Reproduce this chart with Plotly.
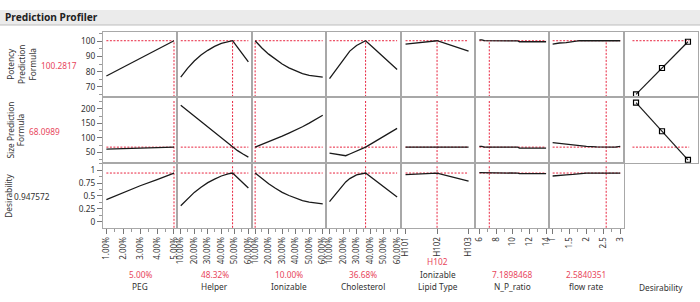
import plotly.graph_objects as go
from plotly.subplots import make_subplots

# ---------------- data ----------------
factor_names = ["PEG", "Helper", "Ionizable", "Cholesterol", "Ionizable\nLipid Type", "N_P_ratio", "flow rate"]
factor_current = [5.0, 48.32, 10.0, 36.68, 1, 7.1898468, 2.5840351]
factor_current_text = ["5.00%", "48.32%", "10.00%", "36.68%", "H102", "7.1898468", "2.5840351"]
factor_min = [1, 10, 10, 10, 0, 6, 1]
factor_max = [5, 60, 60, 60, 2, 14, 3]

response_names = ["Potency<br>Prediction<br>Formula", "Size Prediction<br>Formula", "Desirability"]
response_current = [100.2817, 68.0989, 0.947572]
response_current_text = ["100.2817", "68.0989", "0.947572"]

peg_x = [1, 2, 3, 4, 5]
peg_potency = [77.2, 83.0, 88.8, 94.5, 100.28]
peg_size = [61.0, 62.8, 64.6, 66.4, 68.1]
peg_desir = [0.43, 0.57, 0.70, 0.82, 0.9476]

helper_x = [10, 15, 20, 25, 30, 35, 40, 45, 48.32, 52, 56, 60]
helper_potency = [76.5, 82.2, 87.0, 90.9, 94.0, 96.6, 98.5, 99.8, 100.28, 95.9, 91.1, 86.4]
helper_size = [213, 194, 175, 156, 137.5, 119, 100.5, 81, 68.1, 56, 44.5, 33.6]
helper_desir = [0.31, 0.45, 0.57, 0.67, 0.76, 0.83, 0.89, 0.93, 0.9476, 0.856, 0.756, 0.655]

ioniz_x = [10, 15, 20, 25, 30, 35, 40, 45, 50, 55, 60]
ioniz_potency = [100.28, 95.5, 91.5, 88.0, 85.0, 82.5, 80.5, 78.8, 77.6, 76.9, 76.5]
ioniz_size = [68.1, 77, 86, 96, 106, 116.5, 127, 138.5, 151, 164, 178]
ioniz_desir = [0.9476, 0.84, 0.74, 0.65, 0.57, 0.51, 0.455, 0.41, 0.38, 0.36, 0.347]

chol_x = [10, 15, 20, 22, 25, 30, 36.68, 42, 48, 54, 60]
chol_potency = [75.4, 81.5, 88.0, 90.5, 93.5, 97.2, 100.28, 96.0, 91.1, 86.3, 81.4]
chol_size = [47.3, 44, 38.5, 38.5, 44.5, 54.6, 68.1, 83, 99.8, 116.6, 133]
chol_desir = [0.39, 0.56, 0.72, 0.775, 0.84, 0.91, 0.9476, 0.84, 0.72, 0.60, 0.48]

lipid_x = [0, 1, 2]
lipid_labels = ["H101", "H102", "H103"]
lipid_potency = [98.0, 100.28, 93.4]
lipid_size = [68.1, 68.1, 68.1]
lipid_desir = [0.916, 0.9476, 0.79]

np_x = [6, 6.3, 6.6, 7.1898468, 10.6, 10.8, 14]
np_potency = [100.9, 100.9, 100.3, 100.28, 100.2, 99.6, 99.6]
np_size = [71, 71, 68.3, 68.1, 68.0, 65.0, 65.0]
np_desir = [0.955, 0.955, 0.949, 0.9476, 0.946, 0.937, 0.937]

flow_x = [1, 1.2, 1.4, 1.6, 1.8, 2.0, 2.3, 2.5840351, 2.85, 3]
flow_potency = [98.0, 98.8, 99.0, 99.5, 100.28, 100.28, 100.28, 100.28, 100.28, 100.28]
flow_size = [83.6, 81, 78, 75.5, 73, 71, 69, 68.1, 68.0, 71]
flow_desir = [0.89, 0.905, 0.912, 0.92, 0.94, 0.9476, 0.9476, 0.9476, 0.9476, 0.9476]

desir_fn_x = [0.12, 0.56, 1.0]
potency_fn_y = [65.1, 82.4, 99.6]
size_fn_y = [222, 123, 24.4]
desir_hline_x = [0.06, 1.02]

# tick labels
peg_ticks = [1, 2, 3, 4, 5]
peg_ticktext = ["1.00%", "2.00%", "3.00%", "4.00%", "5.00%"]
pct_ticks = [10, 20, 30, 40, 50, 60]
pct_ticktext = ["10.00%", "20.00%", "30.00%", "40.00%", "50.00%", "60.00%"]
np_ticks = [6, 8, 10, 12, 14]
flow_ticks = [1, 1.5, 2, 2.5, 3]
desir_ticks = [0, 0.25, 0.5, 0.75, 1]

factor_x = [peg_x, helper_x, ioniz_x, chol_x, lipid_x, np_x, flow_x]
factor_resp = [
    [peg_potency, peg_size, peg_desir],
    [helper_potency, helper_size, helper_desir],
    [ioniz_potency, ioniz_size, ioniz_desir],
    [chol_potency, chol_size, chol_desir],
    [lipid_potency, lipid_size, lipid_desir],
    [np_potency, np_size, np_desir],
    [flow_potency, flow_size, flow_desir],
]

# ---------------- layout geometry ----------------
W, H = 700, 302
L, R, T, B = 103, 2, 32, 74
PW = W - L - R
PH = H - T - B

def px_x(px):
    return (px - L) / PW

def px_y(py):
    return (H - B - py) / PH

RED = "#e8243f"
RED_TXT = "#e8465c"
TXT = "#333333"
FRAME = "#a8a8a8"
FONT = "Noto Sans"
FS = 8.3
TFS = 8.0

x_ranges = [[0.8, 5.2], [7.5, 62.5], [7.5, 62.5], [7.5, 62.5], [-0.16, 2.2],
            [5.46, 14.38], [0.9, 3.1], [-0.09, 1.17]]
y_ranges = [[63.2, 106], [14.5, 240], [-0.124, 1.15]]
vline_lo = [63.5, 15, -0.12]
vline_hi = [100.2817, 230, 1.11]

fig = make_subplots(rows=3, cols=8, horizontal_spacing=0, vertical_spacing=0)

dash = "2px,1.5px"
for c in range(7):
    for r in range(3):
        fig.add_trace(go.Scatter(x=[factor_min[c], factor_max[c]],
                                 y=[response_current[r]] * 2, mode="lines",
                                 line=dict(color=RED, width=1, dash=dash),
                                 hoverinfo="skip", showlegend=False), row=r + 1, col=c + 1)
        fig.add_trace(go.Scatter(x=[factor_current[c]] * 2, y=[vline_lo[r], vline_hi[r]],
                                 mode="lines", line=dict(color=RED, width=1, dash=dash),
                                 hoverinfo="skip", showlegend=False), row=r + 1, col=c + 1)
        fig.add_trace(go.Scatter(x=factor_x[c], y=factor_resp[c][r], mode="lines",
                                 line=dict(color="#1a1a1a", width=1.3),
                                 hoverinfo="skip", showlegend=False), row=r + 1, col=c + 1)

for r, fy in enumerate([potency_fn_y, size_fn_y]):
    fig.add_trace(go.Scatter(x=desir_hline_x, y=[response_current[r]] * 2, mode="lines",
                             line=dict(color=RED, width=1, dash=dash),
                             hoverinfo="skip", showlegend=False), row=r + 1, col=8)
    fig.add_trace(go.Scatter(x=desir_fn_x, y=fy, mode="lines+markers",
                             line=dict(color="#1a1a1a", width=1.2),
                             marker=dict(symbol="square-open", size=5, color="#000000",
                                         line=dict(width=1.2)),
                             hoverinfo="skip", showlegend=False), row=r + 1, col=8)

tickfont = dict(family=FONT, size=TFS, color=TXT)
x_tick_specs = [
    (peg_ticks, peg_ticktext, 0.5),
    (pct_ticks, pct_ticktext, 5),
    (pct_ticks, pct_ticktext, 5),
    (pct_ticks, pct_ticktext, 5),
    (lipid_x, lipid_labels, None),
    (np_ticks, [str(v) for v in np_ticks], 1),
    (flow_ticks, [str(v) for v in flow_ticks], 0.25),
    (desir_ticks, [f"{v:g}" for v in desir_ticks], 0.125),
]
y_tick_specs = [(10, 5, 0), (50, 25, 0), (0.25, 0.125, 0)]

for r in range(3):
    for c in range(8):
        tv, tt, mdt = x_tick_specs[c]
        xa = dict(range=x_ranges[c], showgrid=False, zeroline=False, showline=True,
                  mirror=True, linecolor=FRAME, linewidth=1, fixedrange=True)
        if r == 2:
            xa.update(tickmode="array", tickvals=tv, ticktext=tt, ticks="outside",
                      ticklen=5, tickcolor="#777777", tickangle=-90, tickfont=tickfont,
                      showticklabels=True)
            if mdt:
                xa["minor"] = dict(ticks="outside", ticklen=3, tickcolor="#999999",
                                   dtick=mdt, tick0=0)
        else:
            xa.update(showticklabels=False, ticks="")
        fig.update_xaxes(row=r + 1, col=c + 1, **xa)

        dt, mdt_y, t0 = y_tick_specs[r]
        ya = dict(range=y_ranges[r], showgrid=False, zeroline=False, showline=True,
                  mirror=True, linecolor=FRAME, linewidth=1, fixedrange=True)
        if c == 0:
            ya.update(tickmode="linear", dtick=dt, tick0=t0, ticks="outside", ticklen=5,
                      tickcolor="#777777", tickfont=dict(family=FONT, size=FS, color=TXT),
                      showticklabels=True,
                      minor=dict(ticks="outside", ticklen=3, tickcolor="#999999",
                                 dtick=mdt_y, tick0=0))
        else:
            ya.update(showticklabels=False, ticks="")
        fig.update_yaxes(row=r + 1, col=c + 1, **ya)

annotations = []
shapes = []

shapes.append(dict(type="rect", xref="paper", yref="paper", x0=px_x(0), x1=px_x(700),
                   y0=px_y(25), y1=px_y(10), fillcolor="#ebebeb", line=dict(width=0),
                   layer="below"))
shapes.append(dict(type="line", xref="paper", yref="paper", x0=px_x(0), x1=px_x(700),
                   y0=px_y(25), y1=px_y(25), line=dict(color="#bdbdbd", width=1)))
annotations.append(dict(xref="paper", yref="paper", x=px_x(3), y=px_y(17.5),
                        xanchor="left", yanchor="middle", showarrow=False,
                        text="<b>Prediction Profiler</b>",
                        font=dict(family=FONT, size=10.2, color="#222222")))

row_label_pos = [(21, 65), (15, 130.5), (9, 195.7)]
row_value_pos = [(59, 65), (44, 131.7), (31.8, 196.7)]
row_value_col = [RED_TXT, RED_TXT, TXT]
for r in range(3):
    lx, ly = row_label_pos[r]
    annotations.append(dict(xref="paper", yref="paper", x=px_x(lx), y=px_y(ly),
                            xanchor="center", yanchor="middle", showarrow=False,
                            textangle=-90, text=response_names[r],
                            font=dict(family=FONT, size=FS, color=TXT)))
    vx, vy = row_value_pos[r]
    annotations.append(dict(xref="paper", yref="paper", x=px_x(vx), y=px_y(vy),
                            xanchor="center", yanchor="middle", showarrow=False,
                            text=response_current_text[r],
                            font=dict(family=FONT, size=FS, color=row_value_col[r])))

colw = PW / 8
for c in range(8):
    cx = px_x(L + colw * (c + 0.5))
    if c < 7:
        name = factor_names[c]
        lines = name.split("\n")
        val_y = 274 - 12.7 * (len(lines) - 1)
        annotations.append(dict(xref="paper", yref="paper", x=cx, y=px_y(val_y),
                                xanchor="center", yanchor="middle", showarrow=False,
                                text=factor_current_text[c],
                                font=dict(family=FONT, size=FS, color=RED_TXT)))
        for i, ln in enumerate(lines):
            yy = 286.7 - 12.7 * (len(lines) - 1 - i)
            annotations.append(dict(xref="paper", yref="paper", x=cx, y=px_y(yy),
                                    xanchor="center", yanchor="middle", showarrow=False,
                                    text=ln, font=dict(family=FONT, size=FS, color=TXT)))
    else:
        annotations.append(dict(xref="paper", yref="paper", x=cx, y=px_y(287),
                                xanchor="center", yanchor="middle", showarrow=False,
                                text="Desirability",
                                font=dict(family=FONT, size=FS, color=TXT)))

fig.update_layout(width=W, height=H, margin=dict(l=L, r=R, t=T, b=B, autoexpand=False),
                  paper_bgcolor="white", plot_bgcolor="white", showlegend=False,
                  annotations=annotations, shapes=shapes,
                  font=dict(family=FONT, size=FS, color=TXT))

fig.write_html("out.html", config={"displayModeBar": False, "staticPlot": True},
               post_script="document.body.style.margin='0px';document.body.style.overflow='hidden';")
